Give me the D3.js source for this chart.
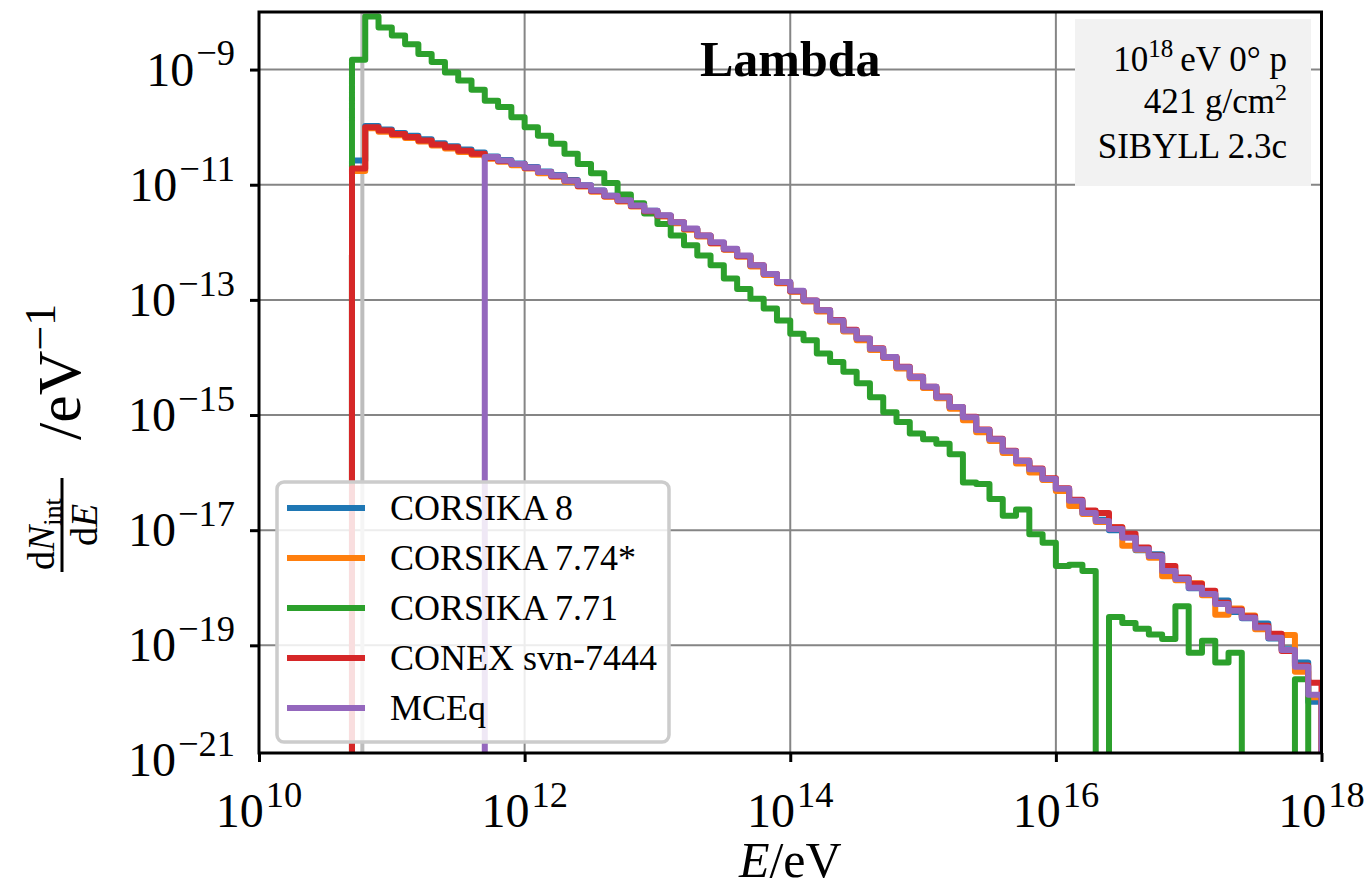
<!DOCTYPE html>
<html>
<head>
<meta charset="utf-8">
<script src="https://cdn.jsdelivr.net/npm/d3@7"></script>
<style>
  body { margin: 0; background: #fff; }
  svg text { font-family: "Liberation Serif", "DejaVu Serif", serif; fill: #000; }
</style>
</head>
<body>
<svg id="chart" width="1365" height="888"></svg>
<script>
// bin edges, log10(E/eV), 0.1 decade bins starting at 10^10.7
const logEdges = [10.7, 10.8, 10.9, 11.0, 11.1, 11.2, 11.3, 11.4, 11.5, 11.6,
  11.7, 11.8, 11.9, 12.0, 12.1, 12.2, 12.3, 12.4, 12.5, 12.6,
  12.7, 12.8, 12.9, 13.0, 13.1, 13.2, 13.3, 13.4, 13.5, 13.6,
  13.7, 13.8, 13.9, 14.0, 14.1, 14.2, 14.3, 14.4, 14.5, 14.6,
  14.7, 14.8, 14.9, 15.0, 15.1, 15.2, 15.3, 15.4, 15.5, 15.6,
  15.7, 15.8, 15.9, 16.0, 16.1, 16.2, 16.3, 16.4, 16.5, 16.6,
  16.7, 16.8, 16.9, 17.0, 17.1, 17.2, 17.3, 17.4, 17.5, 17.6,
  17.7, 17.8, 17.9, 18.0];

// log10(dN/dE) per bin, null = empty bin
const corsika8 = [-10.58, -9.98, -10.04, -10.10, -10.15, -10.21, -10.28, -10.33, -10.39, -10.44,
  -10.51, -10.57, -10.63, -10.69, -10.77, -10.83, -10.92, -11.01, -11.10, -11.19,
  -11.27, -11.36, -11.45, -11.54, -11.66, -11.77, -11.89, -12.01, -12.12, -12.24,
  -12.41, -12.56, -12.70, -12.85, -13.02, -13.19, -13.37, -13.54, -13.68, -13.86,
  -14.00, -14.18, -14.35, -14.52, -14.70, -14.87, -15.06, -15.27, -15.43, -15.64,
  -15.81, -15.97, -16.12, -16.30, -16.50, -16.71, -16.82, -17.00, -17.12, -17.35,
  -17.42, -17.72, -17.84, -18.01, -18.10, -18.22, -18.42, -18.53, -18.62, -18.88,
  -19.07, -19.30, -19.98];
const corsika774 = [-10.76, -10.02, -10.08, -10.14, -10.19, -10.25, -10.32, -10.37, -10.43, -10.48,
  -10.55, -10.60, -10.66, -10.72, -10.80, -10.86, -10.95, -11.03, -11.12, -11.21,
  -11.29, -11.38, -11.47, -11.55, -11.67, -11.78, -11.90, -12.02, -12.13, -12.25,
  -12.42, -12.57, -12.71, -12.86, -13.03, -13.20, -13.38, -13.55, -13.70, -13.87,
  -14.01, -14.19, -14.36, -14.53, -14.71, -14.89, -15.09, -15.30, -15.45, -15.66,
  -15.84, -16.00, -16.13, -16.32, -16.58, -16.72, -16.86, -16.95, -17.27, -17.34,
  -17.48, -17.80, -17.87, -17.92, -18.13, -18.47, -18.36, -18.48, -18.72, -18.86,
  -18.82, -19.46, -19.90];
const corsika771 = [-8.83, -8.08, -8.27, -8.41, -8.56, -8.73, -8.87, -9.05, -9.19, -9.35,
  -9.54, -9.65, -9.83, -10.00, -10.15, -10.29, -10.46, -10.64, -10.80, -10.97,
  -11.17, -11.32, -11.50, -11.68, -11.88, -12.05, -12.23, -12.40, -12.63, -12.81,
  -12.98, -13.15, -13.36, -13.59, -13.70, -13.93, -14.08, -14.25, -14.45, -14.69,
  -14.95, -15.12, -15.32, -15.42, -15.50, -15.68, -16.17, -16.20, -16.46, -16.75,
  -16.64, -17.07, -17.22, -17.62, -17.60, -17.71, null, -18.51, -18.61, -18.71,
  -18.81, -18.89, -18.32, -19.13, -18.92, -19.30, -19.13, null, null, null,
  null, -19.59, null];
const conex = [-10.72, -10.00, -10.06, -10.12, -10.17, -10.23, -10.30, -10.35, -10.41, -10.46,
  -10.53, -10.59, -10.64, -10.71, -10.78, -10.85, -10.93, -11.02, -11.11, -11.20,
  -11.28, -11.37, -11.46, -11.54, -11.65, -11.77, -11.88, -12.01, -12.12, -12.24,
  -12.40, -12.55, -12.70, -12.85, -13.01, -13.18, -13.35, -13.52, -13.67, -13.84,
  -13.99, -14.16, -14.33, -14.51, -14.68, -14.86, -15.03, -15.25, -15.41, -15.62,
  -15.79, -15.93, -16.10, -16.27, -16.47, -16.66, -16.70, -16.95, -17.06, -17.30,
  -17.44, -17.62, -17.82, -17.93, -18.05, -18.26, -18.38, -18.50, -18.66, -18.80,
  -19.10, -19.35, -19.65];
const mceq = [null, null, null, null, null, null, null, null, null, null,
  -10.52, -10.58, -10.64, -10.70, -10.78, -10.84, -10.93, -11.01, -11.10, -11.19,
  -11.27, -11.36, -11.45, -11.53, -11.65, -11.76, -11.88, -12.00, -12.11, -12.23,
  -12.40, -12.55, -12.69, -12.84, -13.01, -13.18, -13.36, -13.53, -13.67, -13.85,
  -13.99, -14.17, -14.34, -14.51, -14.69, -14.86, -15.04, -15.26, -15.42, -15.63,
  -15.80, -15.94, -16.11, -16.28, -16.49, -16.70, -16.84, -16.98, -17.13, -17.33,
  -17.45, -17.71, -17.85, -18.00, -18.11, -18.28, -18.40, -18.52, -18.69, -18.87,
  -19.08, -19.37, -19.86];

const seriesNames = ['CORSIKA 8', 'CORSIKA 7.74*', 'CORSIKA 7.71', 'CONEX svn-7444', 'MCEq'];
const seriesData = [corsika8, corsika774, corsika771, conex, mceq];
const seriesColors = ['#1f77b4', '#ff7f0e', '#2ca02c', '#d62728', '#9467bd'];

const xTickExps = [10, 12, 14, 16, 18];
const yTickExps = [-9, -11, -13, -15, -17, -19, -21];
const cutEnergy = 6e10;

const margin = { top: 12, right: 43.5, bottom: 135, left: 259 };
const width = 1365, height = 888;
const svg = d3.select('#chart');

const x = d3.scaleLog()
  .domain([1e10, 1e18])
  .range([margin.left, width - margin.right]);
const y = d3.scaleLog()
  .domain([Math.pow(10, -20.87), 1e-8])
  .range([height - margin.bottom, margin.top]);

const x0 = margin.left, x1 = width - margin.right;
const y0 = margin.top, y1 = height - margin.bottom;

svg.append('clipPath').attr('id', 'plotclip')
  .append('rect')
  .attr('x', x0).attr('y', y0)
  .attr('width', x1 - x0).attr('height', y1 - y0);

// grid
const grid = svg.append('g');
grid.selectAll('.gx')
  .data(xTickExps.slice(1, -1))
  .enter().append('line')
  .attr('x1', d => x(Math.pow(10, d))).attr('x2', d => x(Math.pow(10, d)))
  .attr('y1', y0).attr('y2', y1)
  .attr('stroke', '#858585').attr('stroke-width', 2);
grid.selectAll('.gy')
  .data(yTickExps.slice(0, -1))
  .enter().append('line')
  .attr('x1', x0).attr('x2', x1)
  .attr('y1', d => y(Math.pow(10, d))).attr('y2', d => y(Math.pow(10, d)))
  .attr('stroke', '#858585').attr('stroke-width', 2);

// energy cut marker
svg.append('line')
  .attr('x1', x(cutEnergy)).attr('x2', x(cutEnergy))
  .attr('y1', y0).attr('y2', y1)
  .attr('stroke', '#bdbdbd').attr('stroke-width', 4);

// histograms
const tiny = 1e-40;
const line = d3.line()
  .x(d => x(Math.pow(10, d[0])))
  .y(d => y(d[1]))
  .curve(d3.curveStepAfter);

function stepPoints(vals) {
  const pts = [[logEdges[0], tiny]];
  vals.forEach((v, i) => pts.push([logEdges[i], v === null ? tiny : Math.pow(10, v)]));
  const last = vals[vals.length - 1];
  pts.push([logEdges[vals.length], last === null ? tiny : Math.pow(10, last)]);
  pts.push([logEdges[vals.length], tiny]);
  return pts;
}

const curves = svg.append('g').attr('clip-path', 'url(#plotclip)');
seriesData.forEach((vals, i) => {
  curves.append('path')
    .attr('d', line(stepPoints(vals)))
    .attr('fill', 'none')
    .attr('stroke', seriesColors[i])
    .attr('stroke-width', 6)
    .attr('stroke-linejoin', 'round');
});

// axes
const xAxis = svg.append('g')
  .attr('transform', `translate(0,${y1})`)
  .call(d3.axisBottom(x).tickValues(xTickExps.map(e => Math.pow(10, e))).tickSize(9).tickFormat(''));
const yAxis = svg.append('g')
  .attr('transform', `translate(${x0},0)`)
  .call(d3.axisLeft(y).tickValues(yTickExps.slice(0, -1).map(e => Math.pow(10, e))).tickSize(9).tickFormat(''));
[xAxis, yAxis].forEach(a => {
  a.select('.domain').remove();
  a.selectAll('.tick line').attr('stroke', '#000').attr('stroke-width', 3);
});

svg.append('rect')
  .attr('x', x0).attr('y', y0)
  .attr('width', x1 - x0).attr('height', y1 - y0)
  .attr('fill', 'none').attr('stroke', '#000').attr('stroke-width', 3);

// tick labels with superscripts
function powLabel(g, exp, fs) {
  g.append('tspan').text('10');
  g.append('tspan')
    .attr('dx', 2)
    .attr('dy', -fs * 0.42)
    .style('font-size', (fs * 0.76) + 'px')
    .text(exp < 0 ? '\u2212' + (-exp) : String(exp));
}
const tickFs = 48;
xTickExps.forEach(e => {
  const t = svg.append('text')
    .attr('x', x(Math.pow(10, e)))
    .attr('y', 827)
    .attr('text-anchor', 'middle')
    .style('font-size', tickFs + 'px');
  powLabel(t, e, tickFs);
});
yTickExps.forEach(e => {
  const t = svg.append('text')
    .attr('x', 235)
    .attr('y', y(Math.pow(10, e)) + 16)
    .attr('text-anchor', 'end')
    .style('font-size', tickFs + 'px');
  powLabel(t, e, tickFs);
});

// x label
const xl = svg.append('text')
  .attr('x', (x0 + x1) / 2)
  .attr('y', 877)
  .attr('text-anchor', 'middle')
  .style('font-size', '50px');
xl.append('tspan').style('font-style', 'italic').text('E');
xl.append('tspan').text('/eV');

// y label: dN_int/dE / eV^-1 (rotated)
const yl = svg.append('g').attr('transform', 'translate(62,572) rotate(-90)');
const num = yl.append('text').attr('x', 2).attr('y', -8).style('font-size', '38px');
num.append('tspan').text('d');
num.append('tspan').style('font-style', 'italic').text('N');
num.append('tspan').attr('dy', 7).style('font-size', '26px').text('int');
yl.append('line')
  .attr('x1', 0).attr('x2', 94).attr('y1', 0).attr('y2', 0)
  .attr('stroke', '#000').attr('stroke-width', 3);
const den = yl.append('text').attr('x', 47).attr('y', 35)
  .attr('text-anchor', 'middle').style('font-size', '38px');
den.append('tspan').text('d');
den.append('tspan').style('font-style', 'italic').text('E');
const unit = yl.append('text').attr('x', 132).attr('y', 18).style('font-size', '62px');
unit.append('tspan').text('/eV');
unit.append('tspan').attr('dy', -25).style('font-size', '44px').text('\u22121');

// title
svg.append('text')
  .attr('x', (x0 + x1) / 2)
  .attr('y', 76)
  .attr('text-anchor', 'middle')
  .style('font-size', '50px')
  .style('font-weight', 'bold')
  .text('Lambda');

// info box
svg.append('rect')
  .attr('x', 1075).attr('y', 19)
  .attr('width', 236).attr('height', 167)
  .attr('fill', '#f2f2f2');
const infoX = 1287;
const l1 = svg.append('text').attr('x', infoX).attr('y', 71)
  .attr('text-anchor', 'end').style('font-size', '35px');
l1.append('tspan').text('10');
l1.append('tspan').attr('dy', -14).style('font-size', '25px').text('18');
l1.append('tspan').attr('dy', 14).text('\u2009eV 0\u00b0 p');
const l2 = svg.append('text').attr('x', infoX).attr('y', 113)
  .attr('text-anchor', 'end').style('font-size', '35px');
l2.append('tspan').text('421 g/cm');
l2.append('tspan').attr('dy', -13).style('font-size', '24px').text('2');
svg.append('text').attr('x', infoX).attr('y', 158)
  .attr('text-anchor', 'end').style('font-size', '35px')
  .text('SIBYLL 2.3c');

// legend
const legend = svg.append('g');
legend.append('rect')
  .attr('x', 277).attr('y', 482)
  .attr('width', 392).attr('height', 260)
  .attr('rx', 7)
  .attr('fill', 'rgba(255,255,255,0.85)')
  .attr('stroke', '#cccccc').attr('stroke-width', 3.5);
seriesNames.forEach((name, i) => {
  const ly = 508 + i * 50;
  legend.append('line')
    .attr('x1', 287).attr('x2', 365)
    .attr('y1', ly).attr('y2', ly)
    .attr('stroke', seriesColors[i]).attr('stroke-width', 6);
  legend.append('text')
    .attr('x', 390).attr('y', ly + 12)
    .style('font-size', '36px')
    .text(name);
});
</script>
</body>
</html>
